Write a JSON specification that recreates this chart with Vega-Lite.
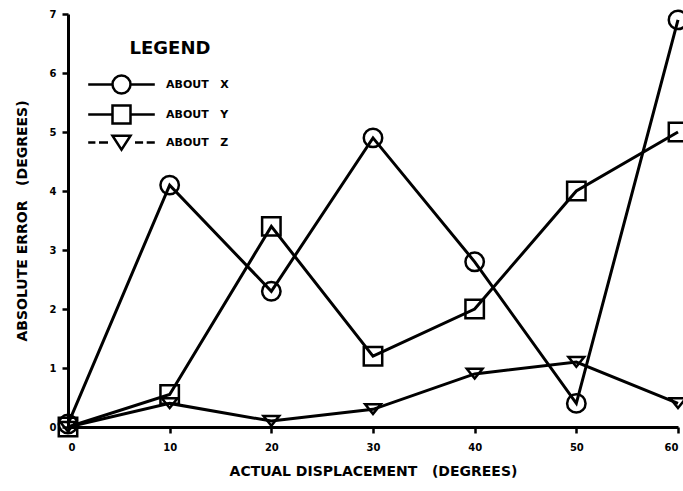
{
  "$schema": "https://vega.github.io/schema/vega-lite/v6.json",
  "width": 610,
  "height": 413,
  "autosize": {"type": "none"},
  "padding": {"left": 68, "top": 14, "right": 5, "bottom": 64},
  "background": "white",
  "config": {
    "view": {"stroke": null},
    "font": "DejaVu Sans",
    "axis": {
      "grid": false,
      "domainColor": "black",
      "domainWidth": 3,
      "tickColor": "black",
      "tickWidth": 2.5,
      "tickSize": 6,
      "labelColor": "black",
      "labelFont": "DejaVu Sans",
      "labelFontWeight": "bold",
      "labelFontSize": 10,
      "titleColor": "black",
      "titleFont": "DejaVu Sans",
      "titleFontWeight": "bold",
      "titleFontSize": 14
    }
  },
  "data": {
    "values": [
      {"deg": 0, "err": 0.05, "series": "ABOUT X"},
      {"deg": 10, "err": 4.1, "series": "ABOUT X"},
      {"deg": 20, "err": 2.3, "series": "ABOUT X"},
      {"deg": 30, "err": 4.9, "series": "ABOUT X"},
      {"deg": 40, "err": 2.8, "series": "ABOUT X"},
      {"deg": 50, "err": 0.4, "series": "ABOUT X"},
      {"deg": 60, "err": 6.9, "series": "ABOUT X"},
      {"deg": 0, "err": 0.0, "series": "ABOUT Y"},
      {"deg": 10, "err": 0.55, "series": "ABOUT Y"},
      {"deg": 20, "err": 3.4, "series": "ABOUT Y"},
      {"deg": 30, "err": 1.2, "series": "ABOUT Y"},
      {"deg": 40, "err": 2.0, "series": "ABOUT Y"},
      {"deg": 50, "err": 4.0, "series": "ABOUT Y"},
      {"deg": 60, "err": 5.0, "series": "ABOUT Y"},
      {"deg": 0, "err": 0.0, "series": "ABOUT Z"},
      {"deg": 10, "err": 0.4, "series": "ABOUT Z"},
      {"deg": 20, "err": 0.1, "series": "ABOUT Z"},
      {"deg": 30, "err": 0.3, "series": "ABOUT Z"},
      {"deg": 40, "err": 0.9, "series": "ABOUT Z"},
      {"deg": 50, "err": 1.1, "series": "ABOUT Z"},
      {"deg": 60, "err": 0.4, "series": "ABOUT Z"}
    ]
  },
  "encoding": {
    "x": {
      "field": "deg",
      "type": "quantitative",
      "scale": {"domain": [0, 60], "nice": false},
      "axis": {"values": [0, 10, 20, 30, 40, 50, 60], "title": "ACTUAL DISPLACEMENT\u00a0\u00a0\u00a0(DEGREES)", "titlePadding": 12, "labelPadding": 9}
    },
    "y": {
      "field": "err",
      "type": "quantitative",
      "scale": {"domain": [0, 7], "nice": false},
      "axis": {"values": [0, 1, 2, 3, 4, 5, 6, 7], "title": "ABSOLUTE ERROR\u00a0\u00a0\u00a0(DEGREES)", "titlePadding": 20, "labelPadding": 6}
    }
  },
  "resolve": {"scale": {"shape": "independent"}, "legend": {"shape": "independent"}},
  "layer": [
    {
      "mark": {"type": "line", "color": "black", "strokeWidth": 3},
      "encoding": {"detail": {"field": "series"}}
    },
    {
      "mark": {"type": "point", "filled": false, "stroke": "black", "strokeWidth": 2.5, "size": 340, "opacity": 1},
      "encoding": {
        "shape": {
          "field": "series",
          "type": "nominal",
          "scale": {
            "domain": ["ABOUT X", "ABOUT Y", "ABOUT Z"],
            "range": ["circle", "square", "M-0.85,-0.55L0.85,-0.55L0,0.5Z"]
          },
          "legend": null
        }
      }
    },
    {
      "mark": {"type": "point", "filled": false, "stroke": "black", "strokeWidth": 2.5, "size": 324, "opacity": 0},
      "encoding": {
        "shape": {
          "field": "series",
          "type": "nominal",
          "scale": {
            "domain": ["ABOUT X", "ABOUT Y", "ABOUT Z"],
            "range": [
              "M-3.7,0H-1M1,0H3.7M-1,0A1,1,0,1,0,1,0A1,1,0,1,0,-1,0",
              "M-3.7,0H-1M1,0H3.7M-1,-1H1V1H-1Z",
              "M-3.7,0H-2.9M-2.5,0H-1.5M1.5,0H2.4M2.8,0H3.7M-1,-0.75L1,-0.75L0,0.8Z"
            ]
          },
          "legend": {
            "title": "LEGEND",
            "orient": "none",
            "legendX": 43,
            "legendY": 26,
            "padding": 0,
            "titleFont": "DejaVu Sans",
            "titleFontWeight": "bold",
            "titleFontSize": 18,
            "titleColor": "black",
            "titleAnchor": "middle",
            "titlePadding": 16,
            "labelFont": "DejaVu Sans",
            "labelFontWeight": "bold",
            "labelFontSize": 11,
            "labelColor": "black",
            "labelOffset": 34,
            "labelExpr": "replace(datum.label, ' ', '\u00a0\u00a0\u00a0')",
            "symbolSize": 324,
            "symbolStrokeColor": "black",
            "symbolFillColor": "transparent",
            "symbolStrokeWidth": 2.5,
            "symbolOpacity": 1,
            "rowPadding": 1
          }
        }
      }
    }
  ]
}
